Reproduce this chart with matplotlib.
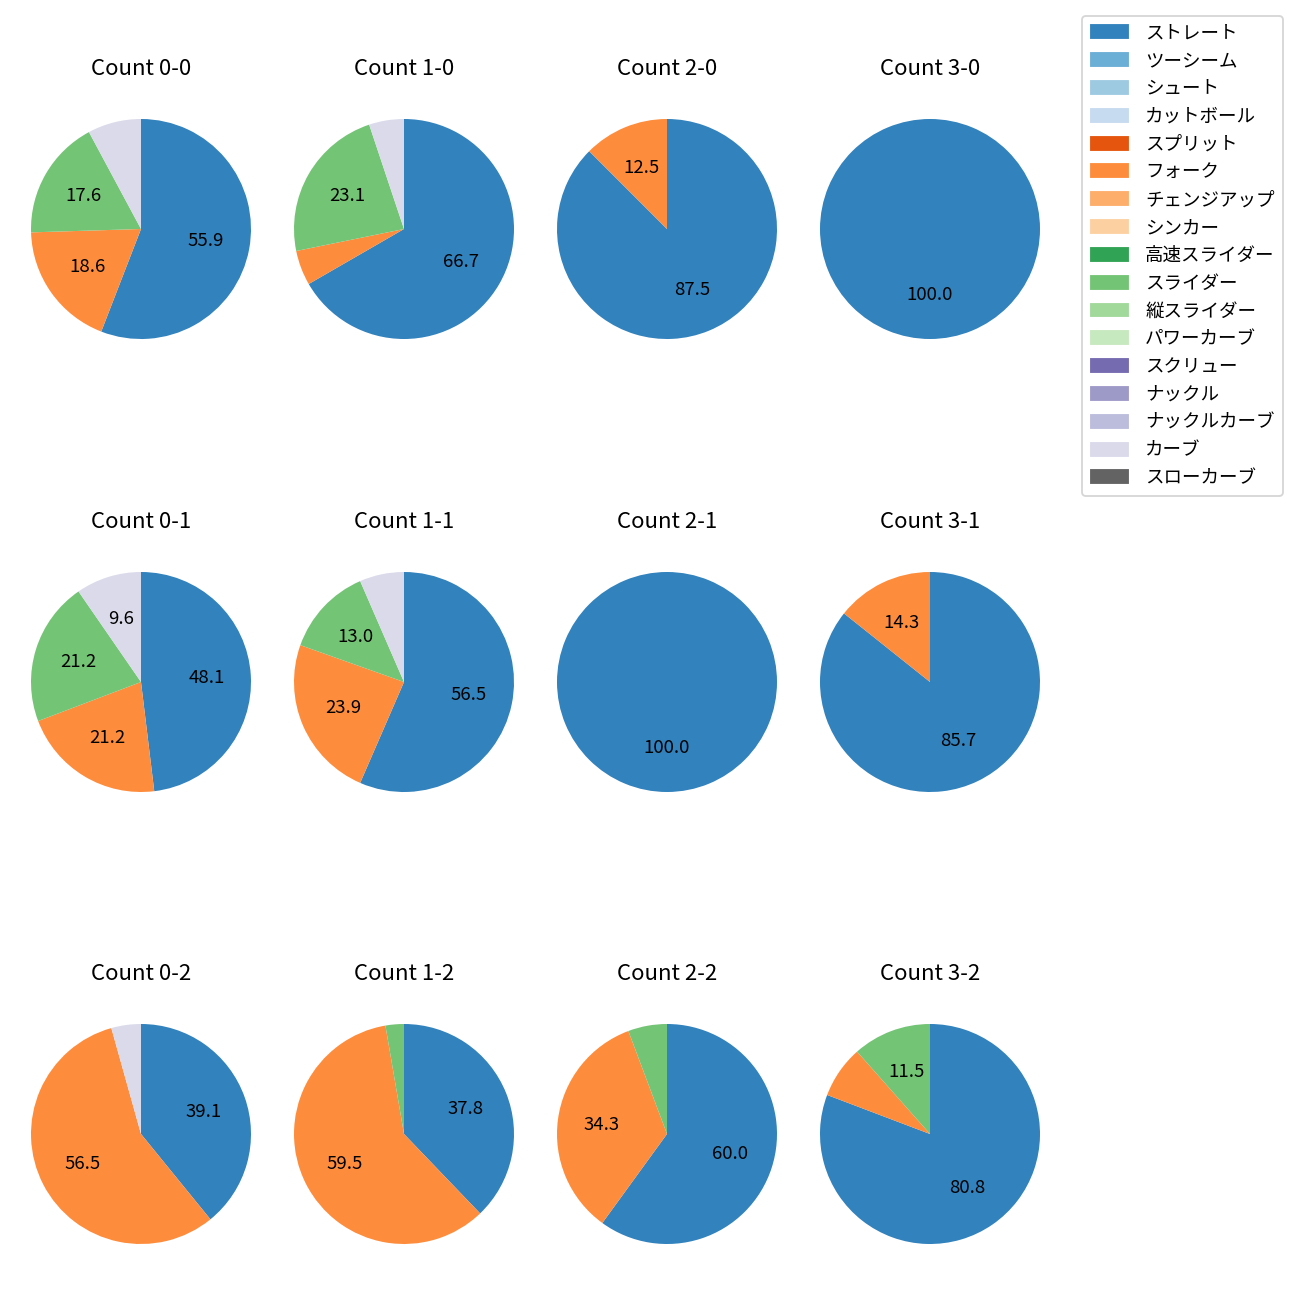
import matplotlib
matplotlib.use('Agg')
import matplotlib.pyplot as plt
from matplotlib.patches import Patch

plt.rcParams['font.family'] = ['Noto Sans CJK JP', 'DejaVu Sans']

### data ##########

pitch_types = ['ストレート', 'ツーシーム', 'シュート', 'カットボール', 'スプリット', 'フォーク',
               'チェンジアップ', 'シンカー', '高速スライダー', 'スライダー', '縦スライダー',
               'パワーカーブ', 'スクリュー', 'ナックル', 'ナックルカーブ', 'カーブ', 'スローカーブ']

# pitches thrown per count, only types that appear: ストレート, フォーク, スライダー, カーブ
used_types = ['ストレート', 'フォーク', 'スライダー', 'カーブ']
count_labels = ['0-0', '1-0', '2-0', '3-0',
                '0-1', '1-1', '2-1', '3-1',
                '0-2', '1-2', '2-2', '3-2']
count_00 = [57, 19, 18, 8]
count_10 = [26, 2, 9, 2]
count_20 = [7, 1, 0, 0]
count_30 = [4, 0, 0, 0]
count_01 = [25, 11, 11, 5]
count_11 = [26, 11, 6, 3]
count_21 = [6, 0, 0, 0]
count_31 = [6, 1, 0, 0]
count_02 = [9, 13, 0, 1]
count_12 = [14, 22, 1, 0]
count_22 = [21, 12, 2, 0]
count_32 = [21, 2, 3, 0]

###################

all_counts = [count_00, count_10, count_20, count_30,
              count_01, count_11, count_21, count_31,
              count_02, count_12, count_22, count_32]

cmap = plt.get_cmap('tab20c')
colors = {name: cmap(i) for i, name in enumerate(pitch_types)}

DPI = 1300 / 9.75
fig = plt.figure(figsize=(9.75, 9.75), dpi=DPI)

W, H = 1300, 1300
radius_px = 110
box = 2.5 * radius_px
x_centers = [141, 404, 667, 930]
y_centers = [229, 682, 1134]

def autopct(p):
    return f'{p:.1f}' if p >= 8 else ''

for i, (label, vals) in enumerate(zip(count_labels, all_counts)):
    row, col = divmod(i, 4)
    cx, cy = x_centers[col], y_centers[row]
    ax = fig.add_axes([(cx - box / 2) / W, 1 - (cy + box / 2) / H, box / W, box / H])
    sizes = [v for v in vals if v > 0]
    cols = [colors[t] for t, v in zip(used_types, vals) if v > 0]
    ax.pie(sizes, colors=cols, startangle=90, counterclock=False,
           autopct=autopct, textprops={'fontsize': 10})
    ax.set_title(f'Count {label}', fontsize=12, pad=9)

handles = [Patch(color=colors[t], label=t) for t in pitch_types]
fig.legend(handles=handles, loc='upper right',
           bbox_to_anchor=(1283 / W, 1 - 16 / H), borderaxespad=0, fontsize=10,
           labelspacing=0.53, handletextpad=0.95, borderpad=0.45)

fig.savefig('out.png', dpi=DPI)
